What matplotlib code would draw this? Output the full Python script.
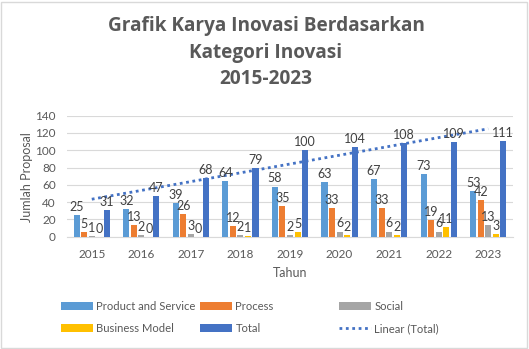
"""Bar chart of innovation works per category, 2015-2023, with a linear trend of the total."""

import matplotlib.pyplot as plt
import numpy as np
from matplotlib.lines import Line2D
from matplotlib.patches import Patch, Rectangle

YEARS = ['2015', '2016', '2017', '2018', '2019', '2020', '2021', '2022', '2023']
PRODUCT_SERVICE = [25, 32, 39, 64, 58, 63, 67, 73, 53]
PROCESS = [5, 13, 26, 12, 35, 33, 33, 19, 42]
SOCIAL = [1, 2, 3, 2, 2, 6, 6, 6, 13]
BUSINESS_MODEL = [0, 0, 0, 1, 5, 2, 2, 11, 3]
TOTAL = [31, 47, 68, 79, 100, 104, 108, 109, 111]

SERIES_NAMES = ['Product and Service', 'Process', 'Social', 'Business Model', 'Total']
COLORS = ['#5b9bd5', '#ed7d31', '#a5a5a5', '#ffc000', '#4472c4']

TEXT_GRAY = '#595959'
LABEL_GRAY = '#404040'
GRID_GRAY = '#d9d9d9'

plt.rcParams['font.family'] = ['Lato', 'DejaVu Sans']

W, H = 529, 349
fig = plt.figure(figsize=(W / 100, H / 100), dpi=100)

# Plot area in pixel terms
left, right, top, bottom = 67, 513, 115.7, 236.7
ax = fig.add_axes([left / W, 1 - bottom / H, (right - left) / W, (bottom - top) / H])

x = np.arange(len(YEARS))
slot = 0.152
width = 0.122
series = [PRODUCT_SERVICE, PROCESS, SOCIAL, BUSINESS_MODEL, TOTAL]

for i, (values, color) in enumerate(zip(series, COLORS)):
    pos = x + (i - 2) * slot
    ax.bar(pos, values, width=width, color=color, zorder=3)
    for px, v in zip(pos, values):
        ax.annotate(str(v), (px, v), xytext=(0, 1.5), textcoords='offset points',
                    ha='center', va='bottom', fontsize=9, color=LABEL_GRAY,
                    zorder=5)

# Linear trendline of the total, the same least squares fit a spreadsheet uses
trend = np.poly1d(np.polyfit(x, TOTAL, 1))
ax.plot(x, trend(x), color='#4472c4', linestyle=(0, (1, 1.3)), linewidth=2,
        zorder=4)

ax.set_xlim(-0.5, len(YEARS) - 0.5)
ax.set_ylim(0, 140)
ax.set_yticks(np.arange(0, 141, 20))
ax.set_xticks(x)
ax.set_xticklabels(YEARS)
ax.tick_params(length=0, labelsize=8.5, labelcolor=TEXT_GRAY)
ax.tick_params(axis='x', pad=9)
ax.tick_params(axis='y', pad=8)
ax.grid(axis='y', color=GRID_GRAY, linewidth=0.8, zorder=0)
for side in ['top', 'right', 'left']:
    ax.spines[side].set_visible(False)
ax.spines['bottom'].set_color(GRID_GRAY)
ax.spines['bottom'].set_linewidth(0.8)

fig.text(290 / W, 1 - 273 / H, 'Tahun', ha='center', va='center',
         fontsize=9, color=TEXT_GRAY)
fig.text(27 / W, 1 - 177 / H, 'Jumlah Proposal', ha='center', va='center',
         rotation=90, fontsize=9, color=TEXT_GRAY)

title_lines = ['Grafik Karya Inovasi Berdasarkan', 'Kategori Inovasi', '2015-2023']
for line, ty in zip(title_lines, [26, 53, 79]):
    fig.text(266 / W, 1 - ty / H, line, ha='center', va='center',
             fontsize=13.7, fontweight='bold', color=TEXT_GRAY,
             family=['Open Sans', 'DejaVu Sans'])

# Legend laid out as three fixed-width columns
handles = [Patch(facecolor=c) for c in COLORS]
handles.append(Line2D([], [], color='#4472c4', linestyle=(0, (1, 1.3)), linewidth=2))
labels = SERIES_NAMES + ['Linear (Total)']
columns = [(0, 3), (1, 4), (2, 5)]
for col, (a, b) in zip([61, 200, 339], columns):
    fig.legend([handles[a], handles[b]], [labels[a], labels[b]],
               loc='upper left', bbox_to_anchor=(col / W, 1 - 301 / H),
               frameon=False, fontsize=8.1, labelcolor=TEXT_GRAY,
               handlelength=2.85, handleheight=0.6, handletextpad=0.3,
               borderpad=0, borderaxespad=0, labelspacing=0.97)

# Chart border
fig.add_artist(Rectangle((1 / W, 1 / H), (W - 3) / W, (H - 3) / H,
                         transform=fig.transFigure, fill=False,
                         edgecolor=GRID_GRAY, linewidth=1))

fig.savefig('out.png', dpi=100)
